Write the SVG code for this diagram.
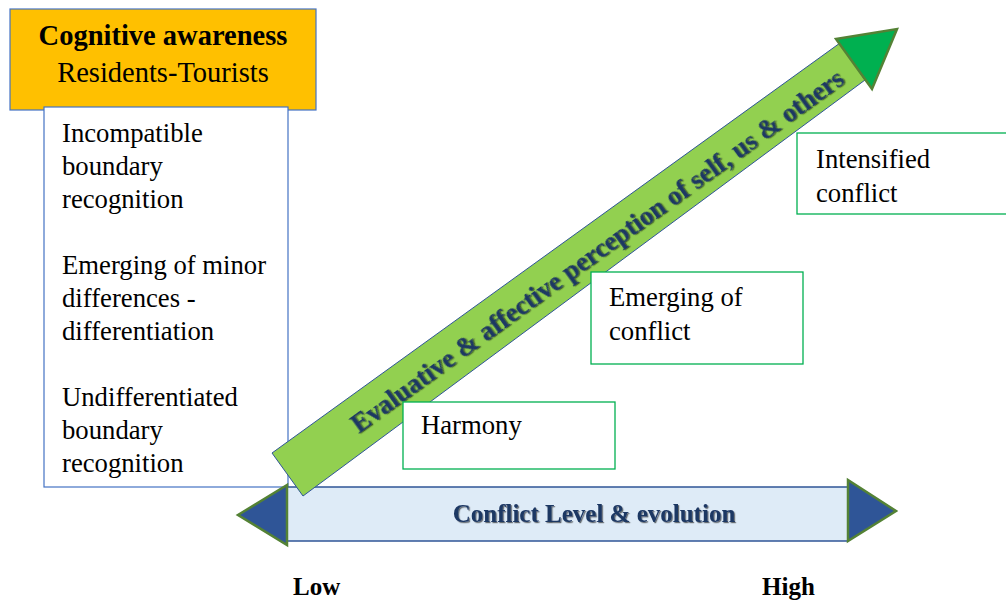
<svg xmlns="http://www.w3.org/2000/svg" width="1006" height="603" viewBox="0 0 1006 603" font-family="'Liberation Serif', 'DejaVu Serif', 'Times New Roman', serif">
<defs>
<style>
text{font-family:'Liberation Serif','DejaVu Serif','Times New Roman',serif;}
.t{font-size:26.7px;fill:#000;}
.b{font-weight:bold;}
.blue{fill:#1F3864;font-weight:bold;}
.gbox{fill:#fff;stroke:#00B050;stroke-width:1.3;}
.bbox{stroke:#4472C4;stroke-width:1.2;}
.head{stroke:#548235;stroke-width:2.5;stroke-linejoin:miter;}
</style>
<filter id="sh" x="-5%" y="-20%" width="110%" height="140%">
<feDropShadow dx="1.2" dy="1.2" stdDeviation="0.7" flood-color="#000" flood-opacity="0.55"/>
</filter>
</defs>
<rect width="1006" height="603" fill="#fff"/>

<g id="cognitive-awareness">
<rect x="10" y="9" width="306" height="101" fill="#FFC000" class="bbox"/>
<text class="b" x="163" y="45" text-anchor="middle" font-size="28.5">Cognitive awareness</text>
<text x="163" y="82" text-anchor="middle" font-size="28.5">Residents-Tourists</text>
</g>

<g id="boundary-list">
<rect x="44" y="107" width="244" height="380" fill="#fff" class="bbox"/>
<text class="t">
<tspan x="62" y="142">Incompatible</tspan>
<tspan x="62" y="175">boundary</tspan>
<tspan x="62" y="208">recognition</tspan>
<tspan x="62" y="274">Emerging of minor</tspan>
<tspan x="62" y="307">differences -</tspan>
<tspan x="62" y="340">differentiation</tspan>
<tspan x="62" y="406">Undifferentiated</tspan>
<tspan x="62" y="439">boundary</tspan>
<tspan x="62" y="472">recognition</tspan>
</text>
</g>

<g id="connectors">
<g id="conflict-level-arrow">
<rect x="287" y="487" width="561" height="54" fill="#DEEBF7" stroke="#2F5597" stroke-width="1.5"/>
<polygon points="287,485 238,515 287,545" fill="#2F5597" class="head"/>
<polygon points="848,480 896,511 848,541" fill="#2F5597" class="head"/>
<text class="blue" x="594" y="522" text-anchor="middle" font-size="25" filter="url(#sh)">Conflict Level &amp; evolution</text>
</g>
<g id="perception-arrow">
<polygon points="272,453 840,43 865,80 303,496" fill="#92D050" stroke="#2F5597" stroke-width="1"/>
<polygon points="836,39 897,29 872,89" fill="#00B050" class="head"/>
<text class="blue" font-size="26.7" text-anchor="middle" transform="translate(597,251) rotate(-35.8)" y="9" filter="url(#sh)">Evaluative &amp; affective perception of self, us &amp; others</text>
</g>
</g>

<g id="harmony">
<rect x="403" y="402" width="212" height="67" class="gbox"/>
<text class="t" x="421" y="434">Harmony</text>
</g>

<g id="emerging-conflict">
<rect x="591" y="272" width="212" height="92" class="gbox"/>
<text class="t"><tspan x="609" y="306">Emerging of</tspan><tspan x="609" y="340">conflict</tspan></text>
</g>

<g id="intensified-conflict">
<rect x="797" y="133" width="220" height="81" class="gbox"/>
<text class="t"><tspan x="816" y="168">Intensified</tspan><tspan x="816" y="202">conflict</tspan></text>
</g>

<g id="low">
<text class="b" x="293" y="595" font-size="25">Low</text>
</g>
<g id="high">
<text class="b" x="762" y="595" font-size="25">High</text>
</g>
</svg>
